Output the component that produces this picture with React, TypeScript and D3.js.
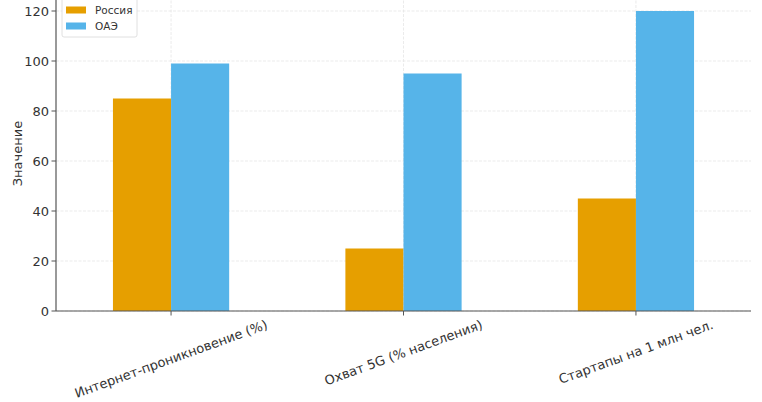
import React, { useEffect, useRef } from "react";
import * as d3 from "d3";

const categories = ["Интернет-проникновение (%)", "Охват 5G (% населения)", "Стартапы на 1 млн чел."];
const seriesNames = ["Россия", "ОАЭ"];
const russia = [85, 25, 45];
const uae = [99, 95, 120];
const yTicks = [0, 20, 40, 60, 80, 100, 120];
const colors = ["#E69F00", "#56B4E9"];

const W = 762, H = 402;
const M = { left: 56, right: 751, top: -4, bottom: 311 };

export default function App() {
  const ref = useRef<SVGSVGElement>(null);
  useEffect(() => {
    const svg = d3.select(ref.current);
    svg.selectAll("*").remove();
    const font = "DejaVu Sans, sans-serif";
    const x = d3.scaleLinear().domain([-0.495, 2.495]).range([M.left, M.right]);
    const y = d3.scaleLinear().domain([0, 126]).range([M.bottom, M.top]);
    const bw = 0.25;
    const g = svg.append("g");

    // grid
    g.selectAll(".hg").data(yTicks).enter().append("line")
      .attr("x1", M.left).attr("x2", M.right)
      .attr("y1", (d) => y(d)).attr("y2", (d) => y(d))
      .attr("stroke", "#e6e6e6").attr("stroke-width", 0.8).attr("stroke-dasharray", "3,1.5");
    g.selectAll(".vg").data(categories).enter().append("line")
      .attr("x1", (_, i) => x(i)).attr("x2", (_, i) => x(i))
      .attr("y1", M.top).attr("y2", M.bottom)
      .attr("stroke", "#e6e6e6").attr("stroke-width", 0.8).attr("stroke-dasharray", "3,1.5");

    const series = [russia, uae];
    series.forEach((vals, s) => {
      g.selectAll(".b" + s).data(vals).enter().append("rect")
        .attr("x", (_, i) => x(i + (s === 0 ? -bw : 0)))
        .attr("width", x(bw) - x(0))
        .attr("y", (d) => y(d))
        .attr("height", (d) => y(0) - y(d))
        .attr("fill", colors[s]);
    });

    // spines
    g.append("line").attr("x1", M.left).attr("x2", M.left).attr("y1", M.top).attr("y2", M.bottom)
      .attr("stroke", "#555").attr("stroke-width", 1.2);
    g.append("line").attr("x1", M.left).attr("x2", M.right).attr("y1", M.bottom).attr("y2", M.bottom)
      .attr("stroke", "#555").attr("stroke-width", 1.2);

    // y ticks
    yTicks.forEach((t) => {
      g.append("line").attr("x1", M.left - 4.5).attr("x2", M.left).attr("y1", y(t)).attr("y2", y(t))
        .attr("stroke", "#555").attr("stroke-width", 1);
      g.append("text").attr("x", M.left - 7).attr("y", y(t)).attr("dy", "0.35em")
        .attr("text-anchor", "end").attr("font-family", font).attr("font-size", 13).attr("fill", "#333").text(t);
    });
    // x ticks + labels
    let maxBottom = 0;
    categories.forEach((c, i) => {
      g.append("line").attr("x1", x(i)).attr("x2", x(i)).attr("y1", M.bottom).attr("y2", M.bottom + 4.5)
        .attr("stroke", "#555").attr("stroke-width", 1);
      const t = g.append("text").attr("text-anchor", "middle").attr("dominant-baseline", "central")
        .attr("font-family", font).attr("font-size", 13).attr("fill", "#333").text(c);
      const w = (t.node() as SVGTextElement).getComputedTextLength();
      const a = (20 * Math.PI) / 180;
      const h = 15;
      const bh = w * Math.sin(a) + h * Math.cos(a);
      const top = M.bottom + 6;
      const cy = top + bh / 2;
      maxBottom = Math.max(maxBottom, top + bh);
      t.attr("transform", `translate(${x(i)},${cy}) rotate(-20)`);
    });
    g.append("text").attr("x", x(1)).attr("y", maxBottom + 6).attr("dominant-baseline", "hanging")
      .attr("text-anchor", "middle").attr("font-family", font).attr("font-size", 13).attr("fill", "#333").text("Показатели");
    g.append("text").attr("transform", `translate(22,${(M.top + M.bottom) / 2}) rotate(-90)`)
      .attr("text-anchor", "middle").attr("font-family", font).attr("font-size", 13).attr("fill", "#333").text("Значение");

    // legend
    const lg = g.append("g");
    lg.append("rect").attr("x", 62).attr("y", -6).attr("width", 75).attr("height", 43).attr("rx", 2)
      .attr("fill", "white").attr("fill-opacity", 0.85).attr("stroke", "#d8d8d8").attr("stroke-width", 0.8);
    seriesNames.forEach((n, i) => {
      const cy = 10 + i * 16;
      lg.append("rect").attr("x", 66).attr("y", cy - 3.5).attr("width", 20).attr("height", 7).attr("fill", colors[i]);
      lg.append("text").attr("x", 95).attr("y", cy).attr("dy", "0.35em").attr("font-family", font)
        .attr("font-size", 10.5).attr("fill", "#333").text(n);
    });
  }, []);
  return (
    <svg ref={ref} width={W} height={H} style={{ position: "absolute", left: 0, top: 0, background: "white" }} />
  );
}
